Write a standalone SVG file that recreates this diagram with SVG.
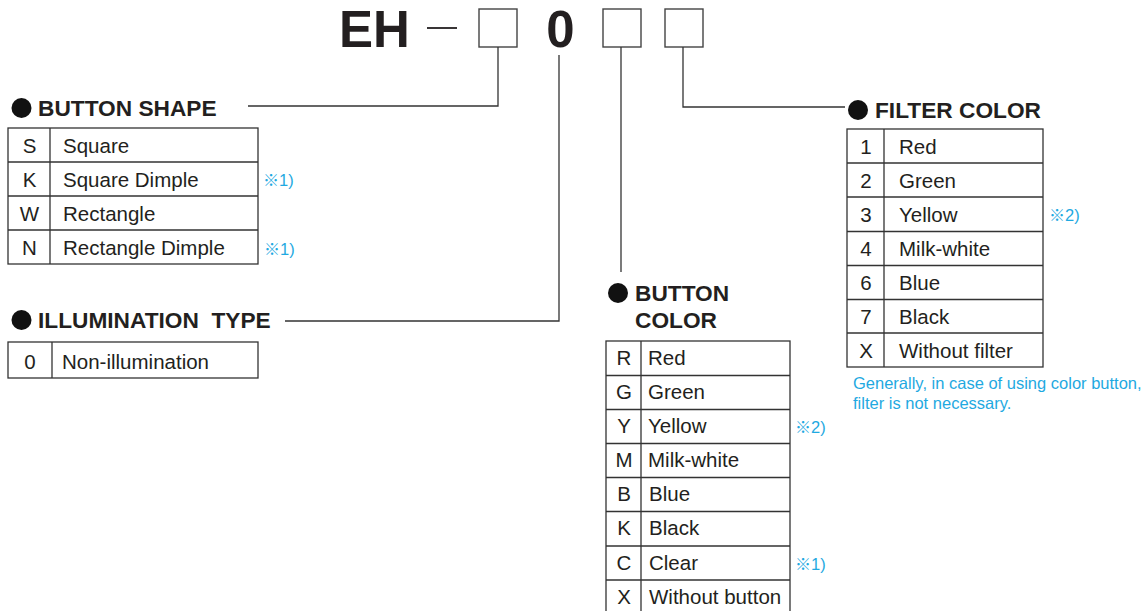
<svg xmlns="http://www.w3.org/2000/svg" width="1141" height="611" viewBox="0 0 1141 611">
<style>
.t{font-family:"Liberation Sans",Arial,sans-serif;font-size:20.5px;fill:#231f20}
.c{text-anchor:middle}
.h{font-family:"Liberation Sans",Arial,sans-serif;font-size:22.7px;font-weight:bold;fill:#231f20}
.n{font-family:"Liberation Sans","Noto Sans CJK JP",sans-serif;font-size:16.5px;fill:#1fa9e1}
.k{font-family:"Noto Sans CJK JP",sans-serif;font-size:16px}
.b{fill:none;stroke:#333;stroke-width:1.3}
.g{fill:#fff;stroke:#444;stroke-width:1.4}
.l{fill:none;stroke:#333;stroke-width:1.3}
.dot{fill:#111}
</style>
<rect width="1141" height="611" fill="#fff"/>
<g id="code">
<text x="339" y="47" font-family="Liberation Sans,Arial,sans-serif" font-size="51" font-weight="bold" fill="#231f20">EH</text>
<line x1="427" y1="28" x2="457" y2="28" stroke="#231f20" stroke-width="1.8"/>
<rect class="g" x="479" y="9" width="38" height="38"/>
<text x="560.5" y="47" font-family="Liberation Sans,Arial,sans-serif" font-size="51" font-weight="bold" fill="#231f20" text-anchor="middle">0</text>
<rect class="g" x="603" y="9" width="38" height="38"/>
<rect class="g" x="665" y="9" width="38" height="38"/>
</g>
<g id="connectors">
<polyline class="l" points="498,47 498,106 248,106"/>
<polyline class="l" points="559,55 559,321 285,321"/>
<polyline class="l" points="621,47 621,272"/>
<polyline class="l" points="683,47 683,107 845,107"/>
</g>
<g id="button-shape">
<circle class="dot" cx="21.5" cy="108" r="10"/>
<text class="h" x="38" y="116">BUTTON SHAPE</text>
<rect class="b" x="8" y="128" width="250" height="136"/>
<path class="b" d="M50,128V264M8,162H258M8,196H258M8,230H258"/>
<text class="t c" x="29.5" y="152.5">S</text><text class="t" x="63" y="152.5">Square</text>
<text class="t c" x="29.5" y="186.5">K</text><text class="t" x="63" y="186.5">Square Dimple</text>
<text class="t c" x="29.5" y="220.5">W</text><text class="t" x="63" y="220.5">Rectangle</text>
<text class="t c" x="29.5" y="254.5">N</text><text class="t" x="63" y="254.5">Rectangle Dimple</text>
<text class="n" x="263" y="186"><tspan class="k">※</tspan>1)</text>
<text class="n" x="264" y="255"><tspan class="k">※</tspan>1)</text>
</g>
<g id="illumination-type">
<circle class="dot" cx="21.5" cy="320" r="10"/>
<text class="h" x="38" y="328" xml:space="preserve">ILLUMINATION  TYPE</text>
<rect class="b" x="8" y="342" width="250" height="36"/>
<path class="b" d="M52,342V378"/>
<text class="t c" x="30" y="368.5">0</text><text class="t" x="62" y="368.5">Non-illumination</text>
</g>
<g id="button-color">
<circle class="dot" cx="618" cy="293" r="10"/>
<text class="h" x="635" y="301">BUTTON</text>
<text class="h" x="635" y="328">COLOR</text>
<rect class="b" x="606" y="341" width="184" height="274"/>
<path class="b" d="M641,341V615M606,375.5H790M606,409.5H790M606,443.5H790M606,477.5H790M606,511.5H790M606,546H790M606,580H790"/>
<text class="t c" x="624" y="365">R</text><text class="t" x="648" y="365">Red</text>
<text class="t c" x="624" y="399">G</text><text class="t" x="648" y="399">Green</text>
<text class="t c" x="624" y="433">Y</text><text class="t" x="648" y="433">Yellow</text>
<text class="t c" x="624" y="467">M</text><text class="t" x="648" y="467">Milk-white</text>
<text class="t c" x="624" y="501">B</text><text class="t" x="649" y="501">Blue</text>
<text class="t c" x="624" y="535">K</text><text class="t" x="649" y="535">Black</text>
<text class="t c" x="624" y="569.5">C</text><text class="t" x="649" y="569.5">Clear</text>
<text class="t c" x="624" y="604">X</text><text class="t" x="649" y="604">Without button</text>
<text class="n" x="795" y="433"><tspan class="k">※</tspan>2)</text>
<text class="n" x="795" y="570"><tspan class="k">※</tspan>1)</text>
</g>
<g id="filter-color">
<circle class="dot" cx="858" cy="110" r="10"/>
<text class="h" x="875" y="118">FILTER COLOR</text>
<rect class="b" x="847" y="129" width="196" height="238"/>
<path class="b" d="M884,129V367M847,163H1043M847,197H1043M847,231.5H1043M847,265.5H1043M847,299.5H1043M847,333H1043"/>
<text class="t c" x="866" y="153.5">1</text><text class="t" x="899" y="153.5">Red</text>
<text class="t c" x="866" y="187.5">2</text><text class="t" x="899" y="187.5">Green</text>
<text class="t c" x="866" y="221.5">3</text><text class="t" x="899" y="221.5">Yellow</text>
<text class="t c" x="866" y="256">4</text><text class="t" x="899" y="256">Milk-white</text>
<text class="t c" x="866" y="290">6</text><text class="t" x="899" y="290">Blue</text>
<text class="t c" x="866" y="324">7</text><text class="t" x="899" y="324">Black</text>
<text class="t c" x="866" y="358">X</text><text class="t" x="899" y="358">Without filter</text>
<text class="n" x="1049" y="221"><tspan class="k">※</tspan>2)</text>
<text class="n" x="853" y="389" font-size="16">Generally, in case of using color button,</text>
<text class="n" x="853" y="409" font-size="16">filter is not necessary.</text>
</g>
</svg>
